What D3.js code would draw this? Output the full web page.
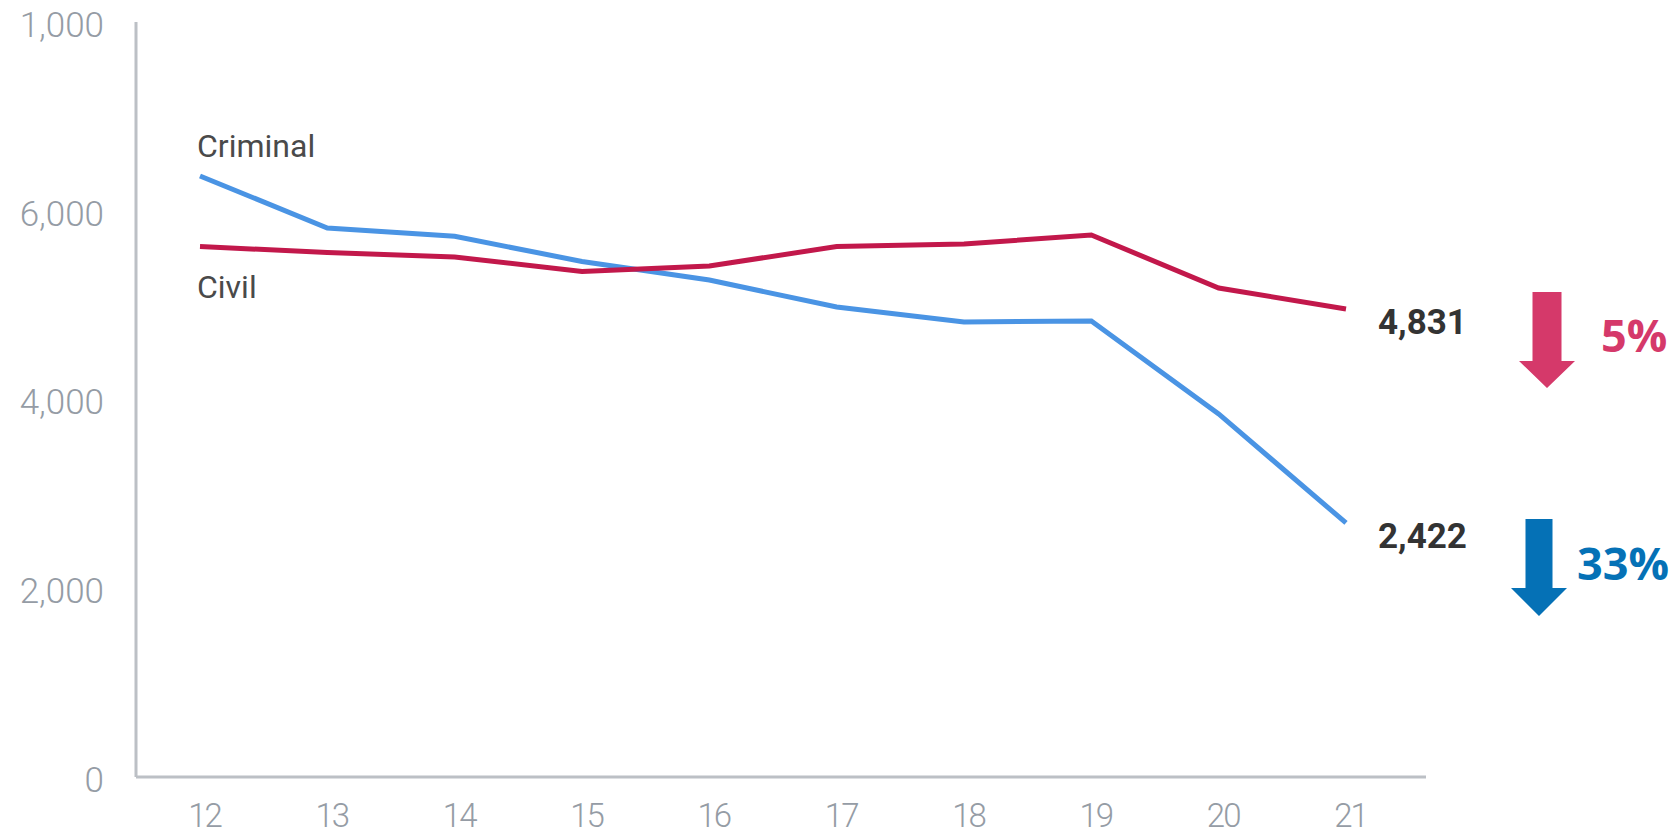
<!DOCTYPE html>
<html>
<head>
<meta charset="utf-8">
<script src="https://cdn.jsdelivr.net/npm/d3@7"></script>
<style>
  body { margin: 0; background: #fff; }
  svg { display: block; }
</style>
</head>
<body>
<div id="chart"></div>
<script>
var width = 1680, height = 835;

// years on the x axis
var years = ["12", "13", "14", "15", "16", "17", "18", "19", "20", "21"];
// series values
var criminal = [6390, 5838, 5750, 5484, 5287, 5001, 4842, 4853, 3868, 2713];
var civil = [5642, 5579, 5531, 5377, 5436, 5642, 5669, 5764, 5203, 4980];
// y ticks and the labels printed next to them (top one reads "1,000" in the source)
var yTicks = [0, 2000, 4000, 6000, 8000];
var yTickLabels = ["0", "2,000", "4,000", "6,000", "1,000"];
// end-of-line labels and change figures
var endLabels = ["4,831", "2,422"];
var changeLabels = ["5%", "33%"];
var seriesNames = ["Criminal", "Civil"];

var blue = "#4a94e4", red = "#c2184b";

var svg = d3.select("#chart")
    .append("svg")
        .attr("width", width)
        .attr("height", height);

var x = d3.scalePoint()
    .domain(years)
    .range([200, 1346]);

var y = d3.scaleLinear()
    .domain([0, 8000])
    .range([779, 24]);

// axes lines
svg.append("line")
    .attr("x1", 136).attr("x2", 136)
    .attr("y1", 22).attr("y2", 777)
    .attr("stroke", "#bcc0c5").attr("stroke-width", 3);
svg.append("line")
    .attr("x1", 136).attr("x2", 1426)
    .attr("y1", 777).attr("y2", 777)
    .attr("stroke", "#bcc0c5").attr("stroke-width", 3);

// y labels
var yAxis = d3.axisLeft(y)
    .tickValues(yTicks)
    .tickSize(0)
    .tickPadding(0)
    .tickFormat(function(d, i){ return yTickLabels[i]; });
svg.append("g")
    .attr("transform", "translate(104,0)")
    .call(yAxis)
    .call(function(g){ g.select(".domain").remove(); })
    .selectAll("text")
        .attr("font-family", "Roboto, sans-serif")
        .attr("font-weight", 300)
        .attr("font-size", 35)
        .attr("fill", "#959ca5")
        .attr("dy", "0.35em");

// x labels
var xAxis = d3.axisBottom(x).tickSize(0).tickPadding(0);
svg.append("g")
    .attr("transform", "translate(4,815)")
    .call(xAxis)
    .call(function(g){ g.select(".domain").remove(); })
    .selectAll("text")
        .attr("font-family", "Roboto, sans-serif")
        .attr("font-weight", 300)
        .attr("font-size", 33)
        .attr("letter-spacing", -2)
        .attr("fill", "#959ca5")
        .attr("dy", "0.35em");

var line = d3.line()
    .x(function(d, i){ return x(years[i]); })
    .y(function(d){ return y(d); });

svg.append("path")
    .datum(criminal)
    .attr("fill", "none")
    .attr("stroke", blue)
    .attr("stroke-width", 5)
    .attr("d", line);

svg.append("path")
    .datum(civil)
    .attr("fill", "none")
    .attr("stroke", red)
    .attr("stroke-width", 5)
    .attr("d", line);

// series names
svg.append("text")
    .attr("x", 197).attr("y", 157)
    .attr("font-family", "Roboto, sans-serif")
    .attr("font-size", 32)
    .attr("fill", "#4a4a4a")
    .text(seriesNames[0]);
svg.append("text")
    .attr("x", 197).attr("y", 298)
    .attr("font-family", "Roboto, sans-serif")
    .attr("font-size", 32)
    .attr("fill", "#4a4a4a")
    .text(seriesNames[1]);

// end values
var last = years[years.length - 1];
svg.append("text")
    .attr("x", x(last) + 32).attr("y", y(civil[civil.length - 1]) + 25)
    .attr("font-family", "Roboto, sans-serif")
    .attr("font-weight", 700)
    .attr("font-size", 35)
    .attr("fill", "#333")
    .text(endLabels[0]);
svg.append("text")
    .attr("x", x(last) + 32).attr("y", y(criminal[criminal.length - 1]) + 25)
    .attr("font-family", "Roboto, sans-serif")
    .attr("font-weight", 700)
    .attr("font-size", 35)
    .attr("fill", "#333")
    .text(endLabels[1]);

// down arrows
function arrow(cx, top, shaftW, headW, headY, tip, color){
    var p = d3.path();
    p.moveTo(cx - shaftW/2, top);
    p.lineTo(cx + shaftW/2, top);
    p.lineTo(cx + shaftW/2, headY);
    p.lineTo(cx + headW/2, headY);
    p.lineTo(cx, tip);
    p.lineTo(cx - headW/2, headY);
    p.lineTo(cx - shaftW/2, headY);
    p.closePath();
    svg.append("path").attr("d", p.toString()).attr("fill", color);
}
arrow(1547, 292, 29, 56, 361, 388, "#d5396a");
arrow(1539, 519, 27, 56, 588, 616, "#0571b6");

svg.append("text")
    .attr("x", 1601).attr("y", 352)
    .attr("font-family", "'Open Sans', sans-serif")
    .attr("font-weight", 700)
    .attr("font-size", 45)
    .attr("fill", "#d5396a")
    .text(changeLabels[0]);
svg.append("text")
    .attr("x", 1577).attr("y", 580)
    .attr("font-family", "'Open Sans', sans-serif")
    .attr("font-weight", 700)
    .attr("font-size", 45)
    .attr("fill", "#0571b6")
    .text(changeLabels[1]);
</script>
</body>
</html>
